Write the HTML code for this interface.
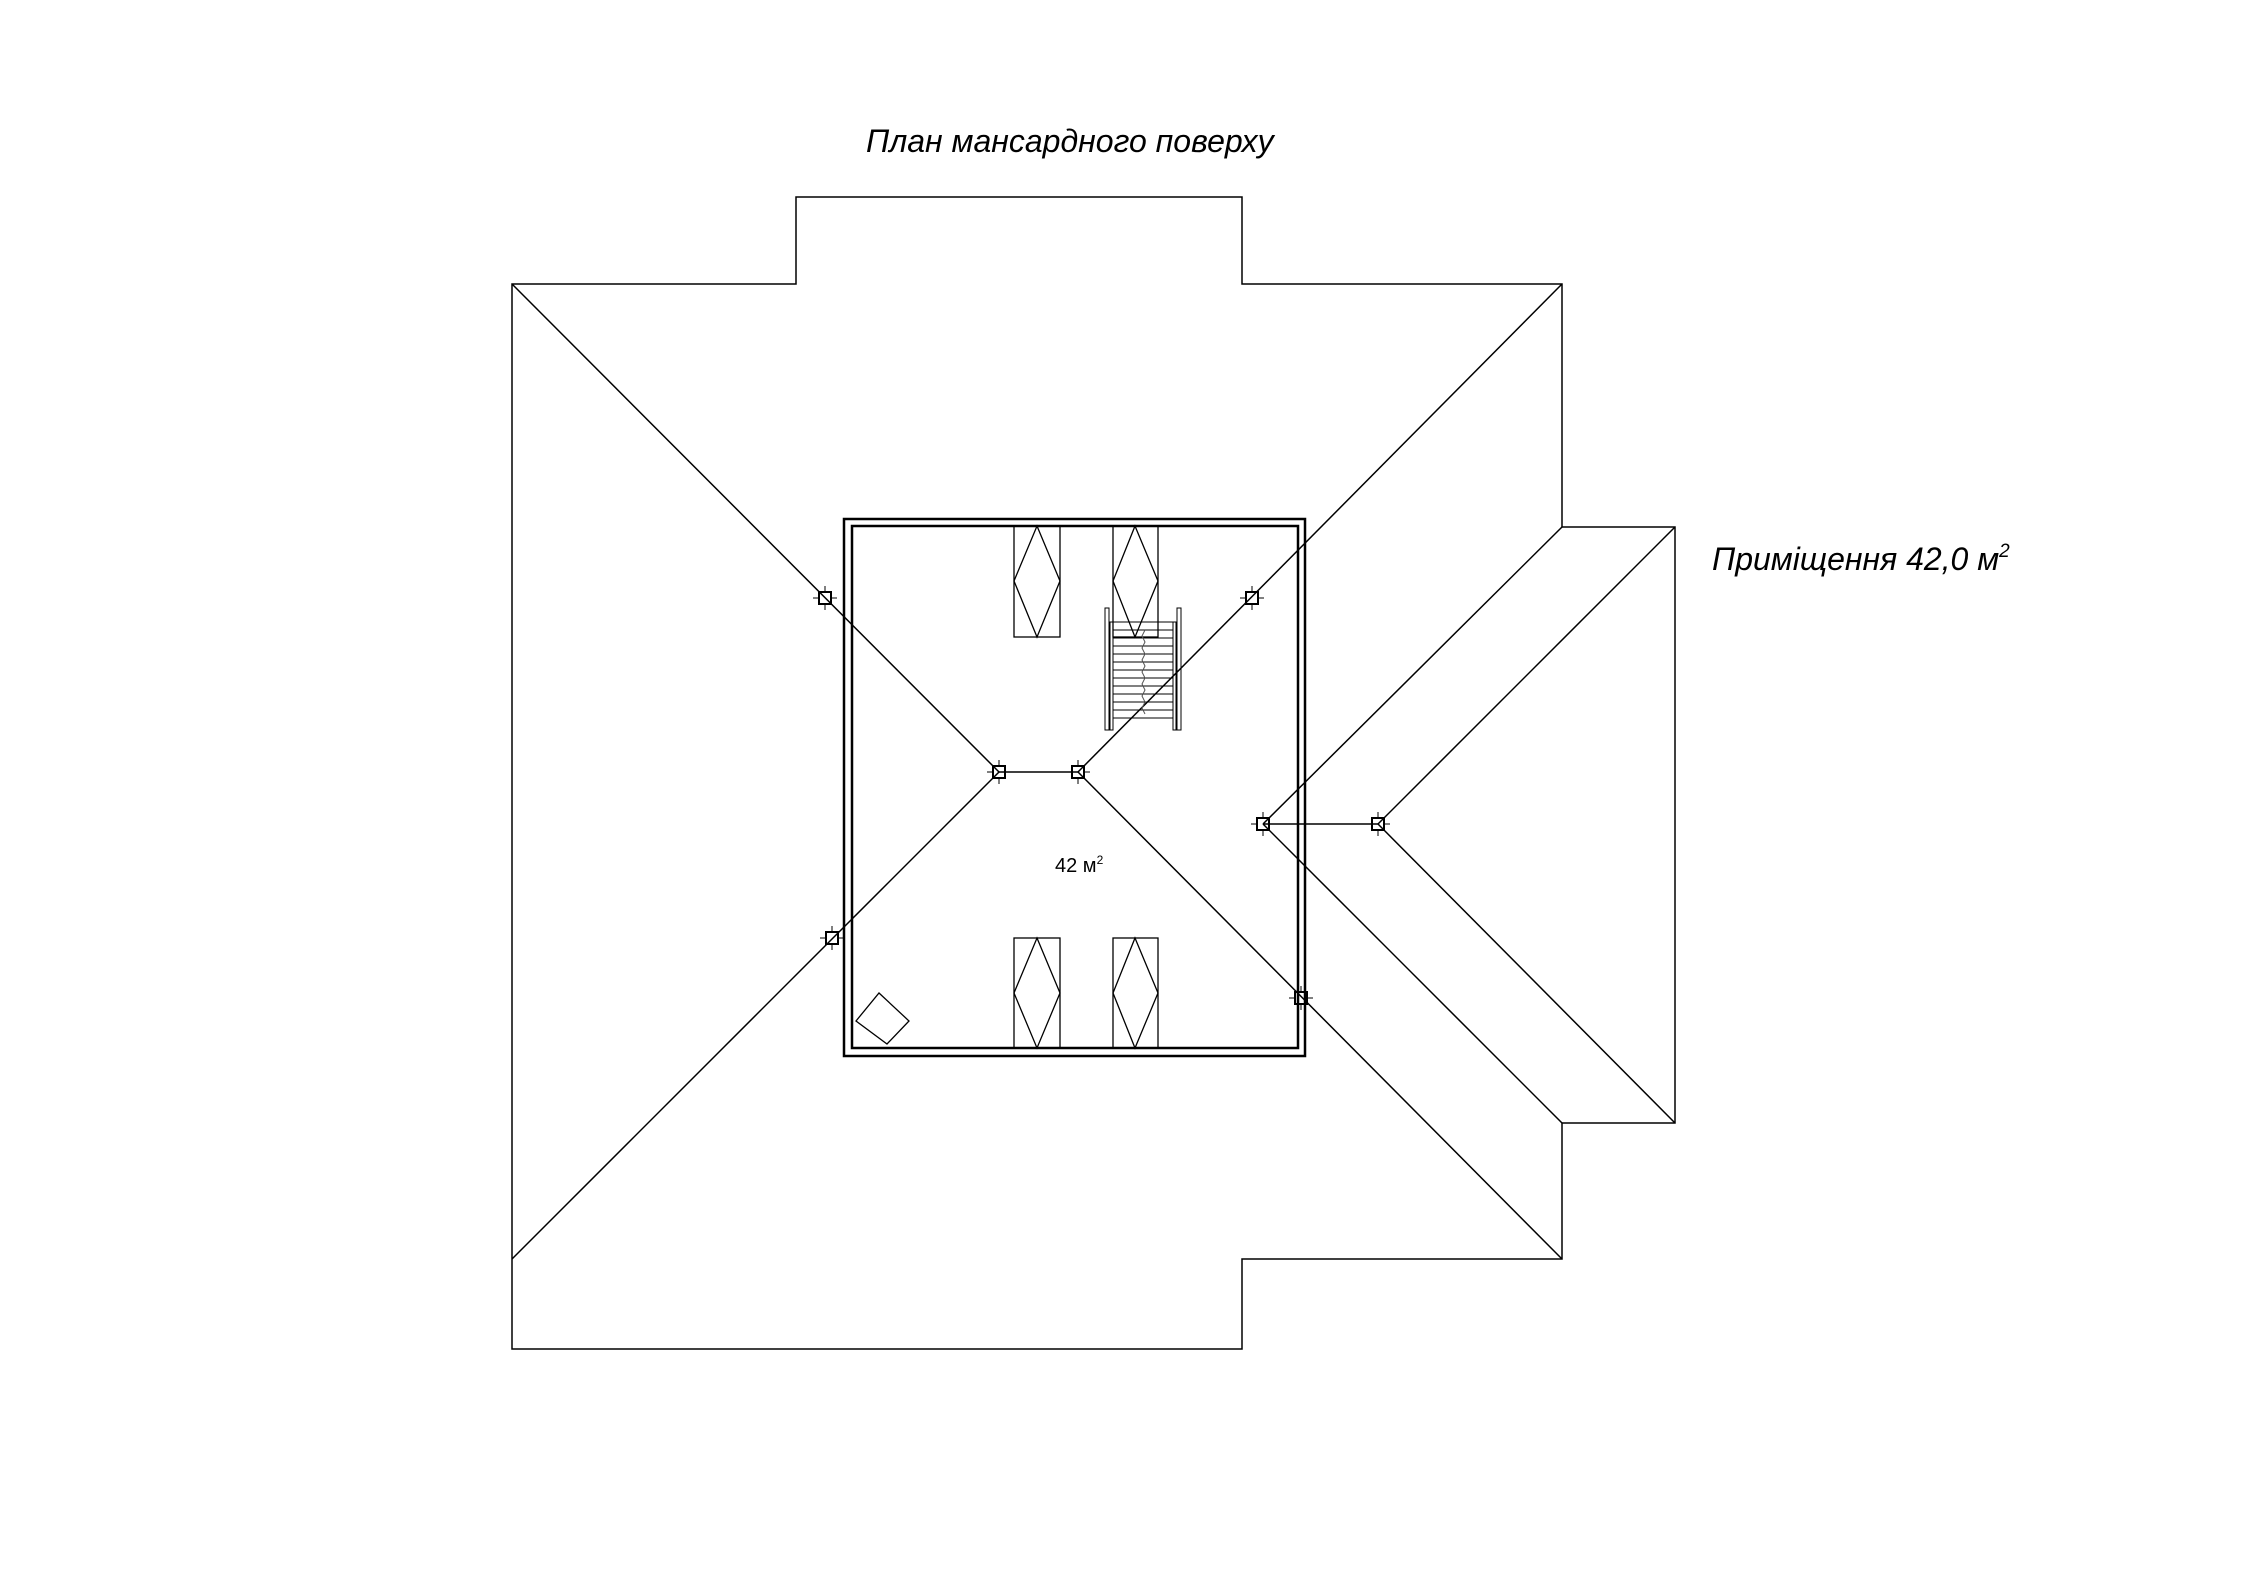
<!DOCTYPE html>
<html><head><meta charset="utf-8"><style>
html,body{margin:0;padding:0;background:#fff;}
svg{display:block;}
text{font-family:"Liberation Sans",sans-serif;fill:#000;}
</style></head><body>
<svg width="2245" height="1587" viewBox="0 0 2245 1587" xmlns="http://www.w3.org/2000/svg">
<defs>
<g id="nd"><path d="M-12 0H-6M6 0H12M0 -12V-6M0 6V12" stroke="#000" stroke-width="1"/><rect x="-6" y="-6" width="12" height="12" fill="none" stroke="#000" stroke-width="2"/></g>
</defs>
<text x="866" y="152" font-size="32" font-style="italic">План мансардного поверху</text>
<text x="1712" y="570" font-size="32" font-style="italic">Приміщення 42,0 м<tspan font-size="19" dy="-13">2</tspan></text>

<g fill="none" stroke="#000" stroke-width="1.5">
<polygon points="512,284 796,284 796,197 1242,197 1242,284 1562,284 1562,527 1675,527 1675,1123 1562,1123 1562,1259 1242,1259 1242,1349 512,1349"/>
<line x1="512" y1="284" x2="999" y2="772"/>
<line x1="999" y1="772" x2="1078" y2="772"/>
<line x1="1078" y1="772" x2="1562" y2="284"/>
<line x1="999" y1="772" x2="512" y2="1259"/>
<line x1="1078" y1="772" x2="1562" y2="1259"/>
<line x1="1562" y1="527" x2="1263" y2="824"/>
<line x1="1675" y1="527" x2="1378" y2="824"/>
<line x1="1263" y1="824" x2="1562" y2="1123"/>
<line x1="1378" y1="824" x2="1675" y2="1123"/>
<line x1="1263" y1="824" x2="1378" y2="824"/>
</g>
<g fill="none" stroke="#000" stroke-width="2.5">
<rect x="844" y="519" width="461" height="537"/>
<rect x="852" y="526" width="446" height="522"/>
</g>
<g fill="none" stroke="#000" stroke-width="1.3">
<rect x="1014" y="526" width="46" height="111"/><polygon points="1037,526 1060,581 1037,637 1014,581"/>
<rect x="1113" y="526" width="45" height="111"/><polygon points="1135,526 1158,581 1135,637 1113,581"/>
<rect x="1014" y="938" width="46" height="110"/><polygon points="1037,938 1060,993 1037,1048 1014,993"/>
<rect x="1113" y="938" width="45" height="110"/><polygon points="1135,938 1158,993 1135,1048 1113,993"/>
<polygon points="856,1021 879,993 909,1021 887,1044"/>
</g>
<g fill="none" stroke="#000" stroke-width="1">
<rect x="1105" y="608" width="4" height="122"/><rect x="1110" y="622" width="3" height="108"/>
<rect x="1177" y="608" width="4" height="122"/><rect x="1173" y="622" width="3" height="108"/>
<path d="M1113 622H1173M1113 630H1173M1113 638H1173M1113 646H1173M1113 654H1173M1113 662H1173M1113 670H1173M1113 678H1173M1113 686H1173M1113 694H1173M1113 702H1173M1113 710H1173M1113 718H1173"/>
<path d="M1145 630l-3 6 3 6-3 6 3 6-3 6 3 6-3 6 3 6-3 6 3 6-3 6 3 6-3 6 3 6" stroke="#555"/>
</g>
<use href="#nd" x="825" y="598"/>
<use href="#nd" x="999" y="772"/>
<use href="#nd" x="1078" y="772"/>
<use href="#nd" x="1252" y="598"/>
<use href="#nd" x="832" y="938"/>
<use href="#nd" x="1263" y="824"/>
<use href="#nd" x="1378" y="824"/>
<use href="#nd" x="1301" y="998"/>
<text x="1055" y="872" font-size="20">42 м<tspan font-size="12" dy="-8">2</tspan></text>
</svg>
</body></html>
